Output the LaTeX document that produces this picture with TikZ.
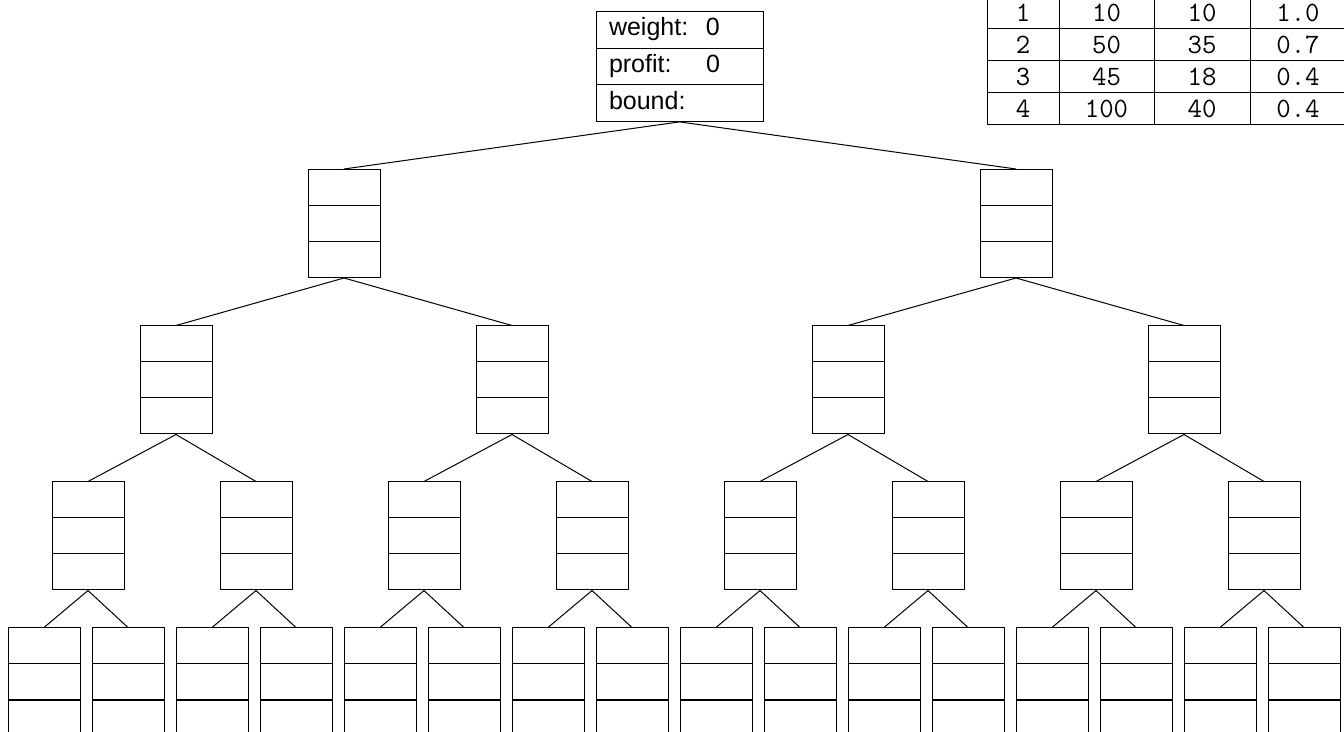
\documentclass[tikz,border=0pt]{standalone}
\usepackage{fontspec}
\setmainfont{Liberation Sans}
\usepackage{tikz}
\usetikzlibrary{shapes.multipart,matrix}

\begin{document}
\begin{tikzpicture}[x=1pt,y=1pt,line width=1pt,every node/.style={font=\fontsize{25}{30}\selectfont},
  slot/.style={draw,rectangle split,rectangle split parts=3,inner sep=0pt,minimum width=72pt,
    rectangle split empty part height=35pt,rectangle split empty part depth=0pt}]
\useasboundingbox (0,0) rectangle (1344,731);
\clip (0,0) rectangle (1344,731);
% root of the search tree
\node[draw,rectangle split,rectangle split parts=3,text width=141pt,inner xsep=13pt,inner ysep=2.8pt,align=left] (root) at (679.5,664.5)
  {\strut\makebox[97pt][l]{weight:}0\nodepart{two}\strut\makebox[97pt][l]{profit:}0\nodepart{three}\strut bound:};
% empty nodes, one row per level
\foreach \i in {1,2} \node[slot] (a\i) at ({-328+672*\i},507.5) {};
\foreach \i in {1,...,4} \node[slot] (b\i) at ({-160+336*\i},351) {};
\foreach \i in {1,...,8} \node[slot] (c\i) at ({-80+168*\i},195) {};
\foreach \i in {1,...,16} \node[slot] (d\i) at ({-40+84*\i},49) {};
% branches
\foreach \i in {1,2} \draw (root.south) -- (a\i.north);
\foreach \i [evaluate=\i as \p using {int(ceil(\i/2))}] in {1,...,4} \draw (a\p.south) -- (b\i.north);
\foreach \i [evaluate=\i as \p using {int(ceil(\i/2))}] in {1,...,8} \draw (b\p.south) -- (c\i.north);
\foreach \i [evaluate=\i as \p using {int(ceil(\i/2))}] in {1,...,16} \draw (c\p.south) -- (d\i.north);
% item table
\matrix (items) [matrix of nodes,anchor=south west,inner sep=0pt,column sep=-1pt,row sep=-1pt,
  nodes={draw,font=\ttfamily\fontsize{28}{32}\selectfont,minimum height=32pt,inner sep=0pt},
  column 1/.style={nodes={minimum width=72pt}},column 2/.style={nodes={minimum width=95pt}},
  column 3/.style={nodes={minimum width=96pt}},column 4/.style={nodes={minimum width=96pt}}]
  at (986,605) {
  1 & 10  & 10 & 1.0 \\
  2 & 50  & 35 & 0.7 \\
  3 & 45  & 18 & 0.4 \\
  4 & 100 & 40 & 0.4 \\
};
\end{tikzpicture}
\end{document}
